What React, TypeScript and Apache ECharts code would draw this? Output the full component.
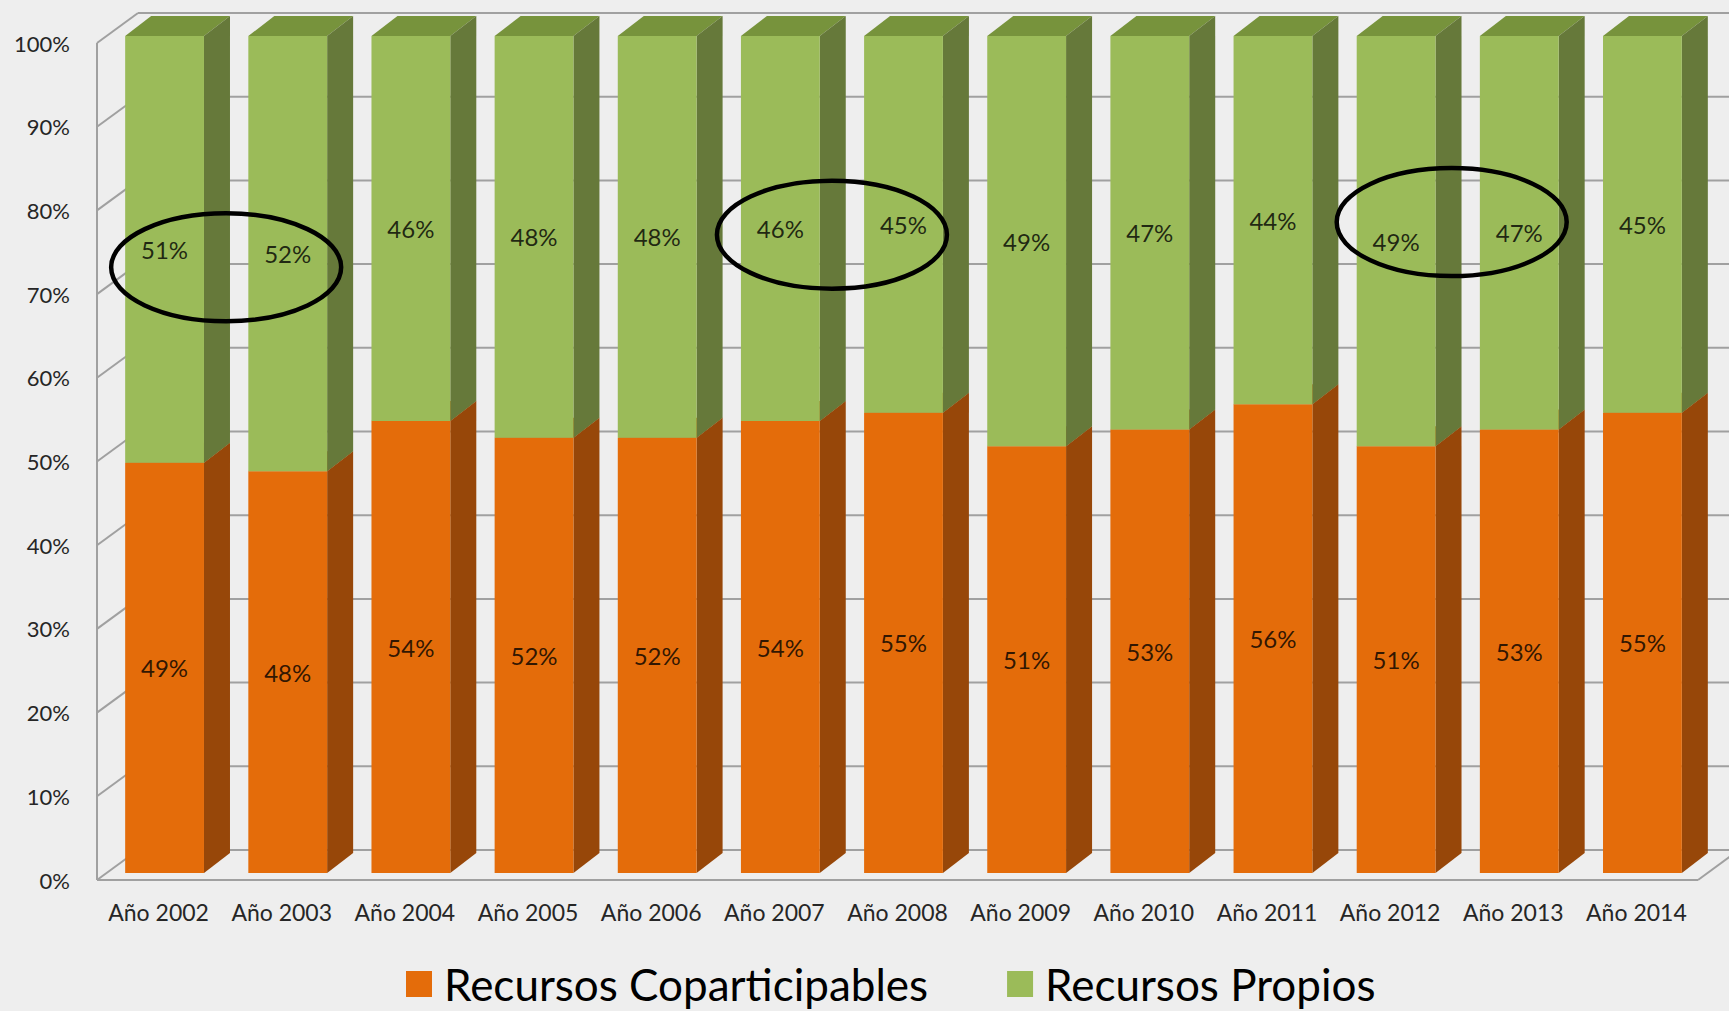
import React, { useEffect, useRef } from "react";
import * as echarts from "echarts";

// Years on the category axis
const YEARS = [
  "Año 2002", "Año 2003", "Año 2004", "Año 2005", "Año 2006", "Año 2007", "Año 2008",
  "Año 2009", "Año 2010", "Año 2011", "Año 2012", "Año 2013", "Año 2014",
];
// Share of each resource type per year (%)
const COPARTICIPABLES = [49, 48, 54, 52, 52, 54, 55, 51, 53, 56, 51, 53, 55];
const PROPIOS = [51, 52, 46, 48, 48, 46, 45, 49, 47, 44, 49, 47, 45];
// Value axis ticks (%)
const TICKS = [0, 10, 20, 30, 40, 50, 60, 70, 80, 90, 100];
// Pairs of years highlighted with a hand-drawn ring: category indexes and the level (%) of its centre
const RING_FROM = [0, 5, 10];
const RING_TO = [1, 6, 11];
const RING_LEVEL = [73.2, 77.1, 78.6];

const SERIES_NAMES = ["Recursos Coparticipables", "Recursos Propios"];

const ORANGE = { front: "#E46C0A", side: "#974709", top: "#B85A08" };
const GREEN = { front: "#9BBB59", side: "#66793A", top: "#77933C" };

// Depth of the walls and the bars in the pseudo-3D projection
const WALL_DX = 41;
const WALL_DY = -30;
const BAR_DX = 26;
const BAR_DY = -20;
const BAR_SHIFT_X = 6;
const BAR_SHIFT_Y = -7;
const BAR_RATIO = 0.64;

const FONT = "Lato, 'Open Sans', sans-serif";

function renderWalls(params: any, api: any) {
  const cs = params.coordSys;
  const x0 = cs.x;
  const x1 = cs.x + cs.width;
  const style = { stroke: "#a0a0a0", lineWidth: 2 };
  const children: any[] = [];
  TICKS.forEach((t) => {
    const y = api.coord([0, t])[1];
    children.push({
      type: "line",
      shape: { x1: x0 + WALL_DX, y1: y + WALL_DY, x2: x1 + WALL_DX, y2: y + WALL_DY },
      style,
    });
    children.push({
      type: "line",
      shape: { x1: x0, y1: y, x2: x0 + WALL_DX, y2: y + WALL_DY },
      style,
    });
  });
  const y0 = api.coord([0, 0])[1];
  const yTop = api.coord([0, 100])[1];
  children.push({ type: "line", shape: { x1: x0, y1: y0, x2: x0, y2: yTop }, style });
  children.push({ type: "line", shape: { x1: x0, y1: y0, x2: x1, y2: y0 }, style });
  children.push({
    type: "line",
    shape: { x1: x1, y1: y0, x2: x1 + WALL_DX, y2: y0 + WALL_DY },
    style,
  });
  return { type: "group", children };
}

function makeBarRenderer(colors: { front: string; side: string; top: string }) {
  return (params: any, api: any) => {
    const i = api.value(0);
    const base = api.value(1);
    const end = api.value(2);
    const label = api.value(3);
    const band = api.size([1, 0])[0];
    const w = band * BAR_RATIO;
    const cx = api.coord([i, 0])[0] + BAR_SHIFT_X;
    const yb = api.coord([i, base])[1] + BAR_SHIFT_Y;
    const yt = api.coord([i, end])[1] + BAR_SHIFT_Y;
    const xl = cx - w / 2;
    const xr = cx + w / 2;
    return {
      type: "group",
      children: [
        {
          type: "polygon",
          shape: { points: [[xl, yt], [xl + BAR_DX, yt + BAR_DY], [xr + BAR_DX, yt + BAR_DY], [xr, yt]] },
          style: { fill: colors.top },
        },
        {
          type: "polygon",
          shape: { points: [[xr, yt], [xr + BAR_DX, yt + BAR_DY], [xr + BAR_DX, yb + BAR_DY], [xr, yb]] },
          style: { fill: colors.side },
        },
        {
          type: "rect",
          shape: { x: xl, y: yt, width: w, height: yb - yt },
          style: { fill: colors.front },
        },
        {
          type: "text",
          style: {
            text: `${label}%`,
            x: cx,
            y: (yt + yb) / 2,
            align: "center",
            verticalAlign: "middle",
            fill: "rgba(0,0,0,0.8)",
            fontSize: 24,
            fontFamily: FONT,
          },
        },
      ],
    };
  };
}

export default function App() {
  const ref = useRef<HTMLDivElement>(null);

  useEffect(() => {
    if (!ref.current) return;
    const chart = echarts.init(ref.current, null, { renderer: "svg" });

    const orangeData = COPARTICIPABLES.map((v, i) => [i, 0, v, v]);
    const greenData = PROPIOS.map((v, i) => [i, COPARTICIPABLES[i], COPARTICIPABLES[i] + v, v]);

    chart.setOption({
      animation: false,
      backgroundColor: "#eeeeee",
      grid: { left: 97, right: 31, top: 43, bottom: 131, containLabel: false },
      xAxis: {
        type: "category",
        data: YEARS,
        axisLine: { show: false },
        axisTick: { show: false },
        axisLabel: { interval: 0, fontSize: 23, fontFamily: FONT, color: "#262626", margin: 20 },
      },
      yAxis: {
        type: "value",
        min: 0,
        max: 100,
        interval: 10,
        axisLine: { show: false },
        axisTick: { show: false },
        splitLine: { show: false },
        axisLabel: {
          formatter: "{value}%",
          fontSize: 22,
          fontFamily: FONT,
          color: "#262626",
          margin: 27,
        },
      },
      legend: {
        left: 406,
        top: 958,
        padding: 0,
        itemWidth: 26,
        itemHeight: 26,
        itemGap: 79,
        icon: "rect",
        selectedMode: false,
        textStyle: {
          fontSize: 44,
          lineHeight: 52,
          fontFamily: FONT,
          color: "#000",
          padding: [0, 0, 0, 7],
        },
        data: [
          { name: SERIES_NAMES[0], itemStyle: { color: ORANGE.front } },
          { name: SERIES_NAMES[1], itemStyle: { color: GREEN.front } },
        ],
      },
      series: [
        {
          type: "custom",
          name: "walls",
          silent: true,
          renderItem: renderWalls,
          data: [[0, 0]],
          encode: { x: 0, y: 1 },
        },
        {
          type: "custom",
          name: SERIES_NAMES[0],
          silent: true,
          itemStyle: { color: ORANGE.front },
          renderItem: makeBarRenderer(ORANGE),
          data: orangeData,
          encode: { x: 0, y: 2 },
        },
        {
          type: "custom",
          name: SERIES_NAMES[1],
          silent: true,
          itemStyle: { color: GREEN.front },
          renderItem: makeBarRenderer(GREEN),
          data: greenData,
          encode: { x: 0, y: 2 },
        },
      ],
    });

    const rings = RING_FROM.map((from, k) => {
      const a = chart.convertToPixel({ gridIndex: 0 }, [from, RING_LEVEL[k]]) as number[];
      const b = chart.convertToPixel({ gridIndex: 0 }, [RING_TO[k], RING_LEVEL[k]]) as number[];
      return {
        type: "ellipse",
        shape: { cx: (a[0] + b[0]) / 2 + (k === 0 ? 6 : k === 1 ? -4 : 0), cy: a[1], rx: 115, ry: 54 },
        style: { fill: "none", stroke: "#000", lineWidth: 4.5 },
        z: 100,
      };
    });
    chart.setOption({ graphic: rings });

    return () => chart.dispose();
  }, []);

  return (
    <div
      ref={ref}
      style={{ position: "absolute", left: 0, top: 0, width: 1729, height: 1011 }}
    />
  );
}
